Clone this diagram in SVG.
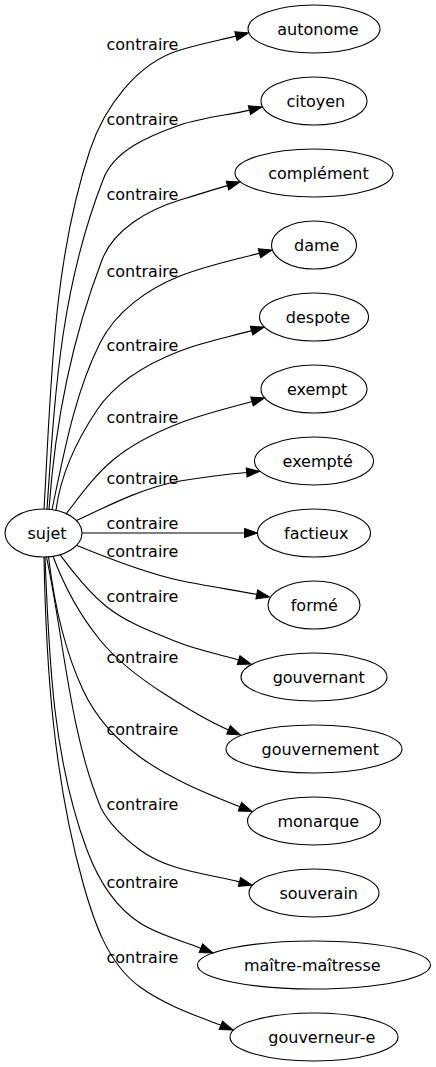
<svg xmlns="http://www.w3.org/2000/svg" width="436" height="1067" viewBox="0 0 436 1067">
<style>
  .node ellipse { fill: none; stroke: #000; stroke-width: 1.1; }
  .node text { font-family: "DejaVu Sans", "Liberation Sans", sans-serif; font-size: 16px; fill: #000; text-anchor: middle; }
  .edges path { fill: none; stroke: #000; stroke-width: 1.1; marker-end: url(#arrow); }
  .edges text { font-family: "DejaVu Sans", "Liberation Sans", sans-serif; font-size: 16px; fill: #000; text-anchor: start; }
</style>
<defs>
  <marker id="arrow" markerUnits="userSpaceOnUse" markerWidth="13" markerHeight="9.4" refX="0" refY="0" orient="auto" overflow="visible">
    <path d="M0,-4.6 L13,0 L0,4.6 Z" fill="#000" stroke="#000" stroke-width="1"/>
  </marker>
</defs>
<rect x="0" y="0" width="436" height="1067" fill="#fff"/>
<g class="edges" id="edges">
  <path d="M44,509 C51.2,389 52.1,263.9 90,150 C104.2,107.3 136.9,62.9 180,50 C199.2,44.3 219.1,40.3 235.9,36.1"/>
  <path d="M47,509.1 C54.8,397 60,290 103,180 C113.4,150.3 150.3,135.4 180,125 C201.7,117.4 230,114.9 249.4,110.1"/>
  <path d="M49,509.3 C55,424 71.6,339.4 102,260 C113.8,229.2 148.4,209.6 180,200 C195.3,195.3 212.1,190.1 227.5,185.6"/>
  <path d="M52,509.6 C63.9,453.3 74.5,394 100,343 C115.6,311.7 147.4,288.9 180,276 C205.1,266 235.2,259.5 259.4,253.3"/>
  <path d="M56,510.3 C60.7,473.4 77,439.9 97,410 C115.9,381.8 148.4,363.2 180,351 C203.3,342 227.5,337.3 251.5,330.6"/>
  <path d="M66,514 C80.7,495.1 94.6,475.4 113,460 C132.6,443.7 156.3,432.2 180,423 C202.3,414.4 229,408 252,401.5"/>
  <path d="M76,520.8 C100,510 140,488 180,481 C205,477 230,474 246.6,472.5"/>
  <path d="M82,533 L244.5,533"/>
  <path d="M77,545.5 C105,557 145,573 180,580.5 C204.4,585.8 237.2,590.4 256.8,594.4"/>
  <path d="M60,554.7 C73.8,573.4 88.9,592.8 107,607 C128.2,623.7 155,633 180,643 C198.6,650.4 219.5,654.1 238.6,660.1"/>
  <path d="M53,556.3 C64.2,586.3 79.8,615.2 100,640 C117.4,661.3 139.8,678.1 163,693 C183.2,706 206.4,720.5 228.5,729.9"/>
  <path d="M48.5,556.8 C54,602.5 63.5,648.3 83,690 C95.3,716.3 116.5,739.9 140,757 C170,778.8 205.5,793 239.9,806.7"/>
  <path d="M46.5,557 C64,640 70,735 101,808 C109.6,824.9 124.8,838.6 140,850 C167.2,870.4 206.4,873.7 239.4,881.9"/>
  <path d="M45,557 C49,656 52.3,757.3 87,850 C97.5,878.1 114.8,906.8 140,923 C158.5,934.9 180.4,940.1 200.9,948.2"/>
  <path d="M44,557 C46,666 53.6,778 83,883 C93.8,921.5 107.6,963.5 140,987 C163.9,1004.3 193.4,1014.7 220.9,1025.3"/>
  <text x="106.5" y="49.7">contraire</text>
  <text x="106.5" y="124.7">contraire</text>
  <text x="106.5" y="199.7">contraire</text>
  <text x="106.5" y="277.2">contraire</text>
  <text x="106.5" y="351">contraire</text>
  <text x="106.5" y="423">contraire</text>
  <text x="106.5" y="484.3">contraire</text>
  <text x="106.5" y="529">contraire</text>
  <text x="106.5" y="556.5">contraire</text>
  <text x="106.5" y="601.5">contraire</text>
  <text x="106.5" y="663">contraire</text>
  <text x="106.5" y="734.7">contraire</text>
  <text x="106.5" y="809.7">contraire</text>
  <text x="106.5" y="887.7">contraire</text>
  <text x="106.5" y="963">contraire</text>
</g>
<g class="node" id="sujet"><ellipse cx="43.5" cy="533" rx="38.5" ry="24"/><text x="47" y="538.7">sujet</text></g>
<g class="node" id="autonome"><ellipse cx="314" cy="29" rx="66" ry="24"/><text x="318" y="35">autonome</text></g>
<g class="node" id="citoyen"><ellipse cx="314" cy="101" rx="53" ry="24"/><text x="315.8" y="107">citoyen</text></g>
<g class="node" id="complement"><ellipse cx="314" cy="173" rx="79" ry="24"/><text x="318.5" y="179">complément</text></g>
<g class="node" id="dame"><ellipse cx="314" cy="245" rx="42.5" ry="24"/><text x="316.7" y="251">dame</text></g>
<g class="node" id="despote"><ellipse cx="314" cy="317" rx="54.5" ry="24"/><text x="318" y="323">despote</text></g>
<g class="node" id="exempt"><ellipse cx="314" cy="389" rx="53" ry="24"/><text x="317.2" y="395">exempt</text></g>
<g class="node" id="exempte"><ellipse cx="314" cy="461" rx="59.5" ry="24"/><text x="317.7" y="467">exempté</text></g>
<g class="node" id="factieux"><ellipse cx="314" cy="533" rx="56.5" ry="24"/><text x="316.3" y="539">factieux</text></g>
<g class="node" id="forme"><ellipse cx="314" cy="605" rx="46" ry="24"/><text x="314.3" y="611">formé</text></g>
<g class="node" id="gouvernant"><ellipse cx="314" cy="677" rx="73" ry="24"/><text x="318.7" y="683">gouvernant</text></g>
<g class="node" id="gouvernement"><ellipse cx="314" cy="749" rx="88" ry="24"/><text x="320.3" y="755">gouvernement</text></g>
<g class="node" id="monarque"><ellipse cx="314" cy="821" rx="66.5" ry="24"/><text x="318.3" y="827">monarque</text></g>
<g class="node" id="souverain"><ellipse cx="314" cy="893" rx="65" ry="24"/><text x="318.7" y="899">souverain</text></g>
<g class="node" id="maitre-maitresse"><ellipse cx="314" cy="965" rx="116.5" ry="24"/><text x="312.3" y="971">maître-maîtresse</text></g>
<g class="node" id="gouverneur-e"><ellipse cx="314" cy="1037" rx="84" ry="24"/><text x="321.8" y="1043">gouverneur-e</text></g>
</svg>
